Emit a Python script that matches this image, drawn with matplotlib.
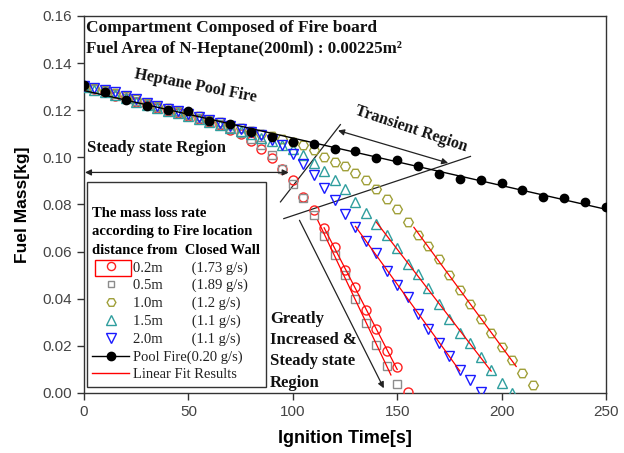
import numpy as np
import matplotlib
matplotlib.use("Agg")
import matplotlib.pyplot as plt
from matplotlib.lines import Line2D
from matplotlib.patches import Rectangle
from matplotlib.font_manager import FontProperties

# ---------------- data ----------------
t_red = [0, 5, 10, 15, 20, 25, 30, 35, 40, 45, 50, 55, 60, 65, 70, 75, 80, 85, 90, 95,
         100, 105, 110, 115, 120, 125, 130, 135, 140, 145, 150, 155]
m_red = [0.1298, 0.1290, 0.1276, 0.1262, 0.1250, 0.1236, 0.1222, 0.1210, 0.1198, 0.1188,
         0.1176, 0.1162, 0.1150, 0.1136, 0.1118, 0.1098, 0.1068, 0.1037, 0.0996, 0.0950,
         0.0903, 0.0832, 0.0775, 0.0702, 0.0620, 0.0524, 0.0448, 0.0352, 0.0270, 0.0179,
         0.0109, 0.0005]

t_gray = [0, 5, 10, 15, 20, 25, 30, 35, 40, 45, 50, 55, 60, 65, 70, 75, 80, 85, 90, 95,
          100, 105, 110, 115, 120, 125, 130, 135, 140, 145, 150]
m_gray = [0.1300, 0.1292, 0.1280, 0.1268, 0.1254, 0.1240, 0.1226, 0.1214, 0.1202, 0.1192,
          0.1180, 0.1166, 0.1154, 0.1140, 0.1124, 0.1104, 0.1079, 0.1051, 0.1012, 0.0952,
          0.0889, 0.0829, 0.0754, 0.0667, 0.0585, 0.0500, 0.0398, 0.0295, 0.0203, 0.0116,
          0.0038]

t_olive = [0, 5, 10, 15, 20, 25, 30, 35, 40, 45, 50, 55, 60, 65, 70, 75, 80, 85, 90, 95,
           100, 105, 110, 115, 120, 125, 130, 135, 140, 145, 150, 155, 160, 165, 170, 175,
           180, 185, 190, 195, 200, 205, 210, 215]
m_olive = [0.1302, 0.1294, 0.1284, 0.1274, 0.1260, 0.1246, 0.1232, 0.1220, 0.1208, 0.1198,
           0.1186, 0.1174, 0.1160, 0.1148, 0.1136, 0.1124, 0.1112, 0.1100, 0.1090, 0.1079,
           0.1065, 0.1051, 0.1030, 0.1003, 0.0982, 0.0963, 0.0933, 0.0903, 0.0867, 0.0825,
           0.0782, 0.0726, 0.0669, 0.0624, 0.0568, 0.0500, 0.0436, 0.0377, 0.0316, 0.0253,
           0.0196, 0.0140, 0.0083, 0.0034]

t_teal = [0, 5, 10, 15, 20, 25, 30, 35, 40, 45, 50, 55, 60, 65, 70, 75, 80, 85, 90, 95,
          100, 105, 110, 115, 120, 125, 130, 135, 140, 145, 150, 155, 160, 165, 170, 175,
          180, 185, 190, 195, 200, 205]
m_teal = [0.1298, 0.1288, 0.1276, 0.1264, 0.1250, 0.1236, 0.1222, 0.1210, 0.1198, 0.1188,
          0.1176, 0.1164, 0.1150, 0.1138, 0.1126, 0.1112, 0.1098, 0.1084, 0.1068, 0.1051,
          0.1035, 0.1012, 0.0976, 0.0943, 0.0905, 0.0867, 0.0811, 0.0764, 0.0719, 0.0669,
          0.0616, 0.0549, 0.0507, 0.0444, 0.0377, 0.0312, 0.0253, 0.0211, 0.0154, 0.0097,
          0.0043, 0.0000]

t_blue = [0, 5, 10, 15, 20, 25, 30, 35, 40, 45, 50, 55, 60, 65, 70, 75, 80, 85, 90, 95,
          100, 105, 110, 115, 120, 125, 130, 135, 140, 145, 150, 155, 160, 165, 170, 175,
          180, 185, 190]
m_blue = [0.1302, 0.1294, 0.1286, 0.1276, 0.1260, 0.1246, 0.1232, 0.1218, 0.1206, 0.1198,
          0.1184, 0.1172, 0.1158, 0.1144, 0.1134, 0.1122, 0.1108, 0.1093, 0.1074, 0.1051,
          0.1014, 0.0973, 0.0924, 0.0872, 0.0821, 0.0761, 0.0705, 0.0647, 0.0592, 0.0518,
          0.0460, 0.0406, 0.0335, 0.0272, 0.0210, 0.0159, 0.0098, 0.0053, 0.0003]

t_pool = [0, 10, 20, 30, 40, 50, 60, 70, 80, 90, 100, 110, 120, 130, 140, 150, 160, 170,
          180, 190, 200, 210, 220, 230, 240, 250]
m_pool = [0.1309, 0.1277, 0.1245, 0.1216, 0.1202, 0.1195, 0.1154, 0.1143, 0.1107, 0.1087,
          0.1065, 0.1055, 0.1034, 0.1027, 0.0999, 0.0987, 0.0963, 0.0928, 0.0910, 0.0903,
          0.0891, 0.0860, 0.0832, 0.0829, 0.0811, 0.0790]

# linear-fit time windows (s) for each fire location
fit_red = (115, 150)
fit_gray = (112, 147)
fit_olive = (158, 207)
fit_teal = (140, 195)
fit_blue = (130, 180)

loc_labels = ["0.2m", "0.5m", "1.0m", "1.5m", "2.0m"]
rate_labels = ["(1.73 g/s)", "(1.89 g/s)", "(1.2 g/s)", "(1.1 g/s)", "(1.1 g/s)"]
pool_label = "Pool Fire(0.20 g/s)"
fit_label = "Linear Fit Results"

# annotation guide geometry (data coords)
steady_arrow = ((0.5, 0.0936), (98, 0.0936))
transient_arrow = ((121.7, 0.1114), (174.4, 0.0976))
greatly_arrow = ((103.2, 0.0733), (143.6, 0.0020))
guide1 = ([94.1, 122.8], [0.0811, 0.1139])
guide2 = ([95.7, 185.1], [0.0740, 0.1004])

# ---------------- styling ----------------
SERIF = "Liberation Serif"
SANS = "Liberation Sans"
c_red = "#ff2020"
c_gray = "#8c8c8c"
c_olive = "#a0a03a"
c_teal = "#2f9e9e"
c_blue = "#1a1aff"

fig = plt.figure(figsize=(6.24, 4.53), dpi=100)
ax = fig.add_axes([0.1346, 0.1325, 0.8365, 0.8322])

series = [
    (t_red, m_red, c_red, "o", 6.5, fit_red),
    (t_gray, m_gray, c_gray, "s", 5.5, fit_gray),
    (t_olive, m_olive, c_olive, "H", 7.0, fit_olive),
    (t_teal, m_teal, c_teal, "^", 7.5, fit_teal),
    (t_blue, m_blue, c_blue, "v", 7.5, fit_blue),
]

for t, m, c, mk, ms, _ in series:
    ax.plot(t, m, linestyle="none", marker=mk, markersize=ms, markerfacecolor="none",
            markeredgecolor=c, markeredgewidth=1.0, zorder=3)

# pool fire
ax.plot(t_pool, m_pool, linestyle="none", marker="o", markersize=6, color="black", zorder=4)
pp = np.polyfit(t_pool, m_pool, 1)
tp = np.array([t_pool[0], t_pool[-1]])
ax.plot(tp, np.polyval(pp, tp), color="black", lw=1.0, zorder=4)

# linear fits
for t, m, c, mk, ms, (a, b) in series:
    t = np.asarray(t); m = np.asarray(m)
    sel = (t >= a) & (t <= b)
    p = np.polyfit(t[sel], m[sel], 1)
    tt = np.array([a, b])
    ax.plot(tt, np.polyval(p, tt), color="red", lw=0.9, zorder=5)

ax.set_xlim(0, 250)
ax.set_ylim(0, 0.16)
ax.set_xticks([0, 50, 100, 150, 200, 250])
ax.set_yticks(np.arange(0, 0.161, 0.02))
ax.yaxis.set_major_formatter(matplotlib.ticker.FormatStrFormatter("%.2f"))
for s in ax.spines.values():
    s.set_linewidth(1.0)
    s.set_color("#333333")
ax.tick_params(direction="out", length=5, width=1.0, color="#333333",
               labelcolor="#444444", labelsize=11)
for lab in ax.get_xticklabels() + ax.get_yticklabels():
    lab.set_fontfamily(SANS)

ax.set_xlabel("Ignition Time[s]", fontsize=13, fontweight="bold", family=SANS, labelpad=8)
ax.set_ylabel("Fuel Mass[kg]", fontsize=12.5, fontweight="bold", family=SANS, labelpad=9)

# texts
bold = dict(family=SERIF, fontweight="bold", color="#111111")
ax.text(1.2, 0.1550, "Compartment Composed of Fire board", fontsize=12.5, va="center", **bold)
ax.text(1.2, 0.1462, "Fuel Area of N-Heptane(200ml) : 0.00225m\u00b2", fontsize=12.2, va="center", **bold)
ax.text(53.5, 0.1305, "Heptane Pool Fire", fontsize=11.5, rotation=-11, ha="center", va="center",
        rotation_mode="anchor", **bold)
ax.text(156.7, 0.1121, "Transient Region", fontsize=11.5, rotation=-18.5, ha="center", va="center",
        rotation_mode="anchor", **bold)
ax.text(1.3, 0.1038, "Steady state Region", fontsize=12, va="center", **bold)
ax.text(89.1, 0.0350, "Greatly\nIncreased &\nSteady state\nRegion", fontsize=12, va="top",
        linespacing=1.45, **bold)

arrow_kw = dict(arrowstyle="<|-|>", color="#222222", lw=0.9, mutation_scale=9, shrinkA=0, shrinkB=0)
ax.annotate("", xy=steady_arrow[1], xytext=steady_arrow[0], arrowprops=arrow_kw)
ax.annotate("", xy=transient_arrow[1], xytext=transient_arrow[0], arrowprops=arrow_kw)
ax.annotate("", xy=greatly_arrow[1], xytext=greatly_arrow[0],
            arrowprops=dict(arrowstyle="-|>", color="#222222", lw=0.9, mutation_scale=9,
                            shrinkA=0, shrinkB=0))
ax.plot(*guide1, color="#222222", lw=0.9)
ax.plot(*guide2, color="#222222", lw=0.9)

# legend
handles = []
for t, m, c, mk, ms, _ in series:
    handles.append(Line2D([], [], linestyle="none", marker=mk, markersize=ms * 0.9,
                          markerfacecolor="none", markeredgecolor=c, markeredgewidth=1.0))
handles.append(Line2D([], [], color="black", lw=1.0, marker="o", markersize=6))
handles.append(Line2D([], [], color="red", lw=1.0))
labels = [f"{a}        {b}" for a, b in zip(loc_labels, rate_labels)] + [pool_label, fit_label]

leg = ax.legend(handles, labels, loc="lower left", bbox_to_anchor=(0.005, 0.015),
                bbox_transform=ax.transAxes, frameon=True, fancybox=False,
                edgecolor="#333333", framealpha=1,
                title="\nThe mass loss rate\naccording to Fire location\ndistance from  Closed Wall",
                alignment="left",
                prop=FontProperties(family=SERIF, size=10.5),
                title_fontproperties=FontProperties(family=SERIF, weight="bold", size=10.5),
                handlelength=2.5, handletextpad=0.3, labelspacing=0.3, borderpad=0.4,
                borderaxespad=0)
leg.get_frame().set_linewidth(1.0)
leg.get_title().set_linespacing(1.55)
for txt in leg.get_texts():
    txt.set_color("#222222")

fig.canvas.draw()
r = fig.canvas.get_renderer()
tb = leg.get_texts()[0].get_window_extent(r)
W, H = fig.bbox.width, fig.bbox.height
x1 = tb.x0 - 2
x0 = x1 - 36
rect = Rectangle((x0 / W, (tb.y0 - 1) / H), (x1 - x0) / W, (tb.height + 2) / H,
                 transform=fig.transFigure, fill=False, edgecolor="red", lw=1.0, zorder=10)
fig.patches.append(rect)

fig.savefig("out.png", dpi=100)
